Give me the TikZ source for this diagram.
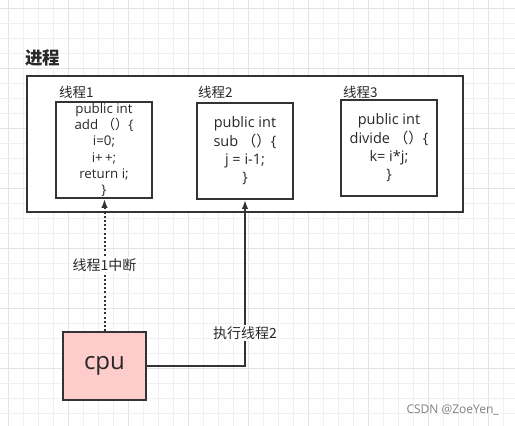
\documentclass[tikz,border=0pt]{standalone}
\usepackage{fontspec}
\setmainfont{Open Sans}
\newfontfamily\cjk{Noto Sans CJK SC}
\usepackage{xcolor}
\usetikzlibrary{arrows.meta,positioning}
\definecolor{gridminor}{RGB}{240,240,240}
\definecolor{gridmajor}{RGB}{228,228,228}
\definecolor{linegray}{RGB}{51,51,51}
\definecolor{textgray}{RGB}{40,40,40}
\definecolor{cpupink}{RGB}{255,204,204}
\tikzset{
    gridline/.style={draw=gridminor, line width=0.8pt},
    gridbold/.style={draw=gridmajor, line width=0.8pt},
    procbox/.style={
        rectangle,
        draw=linegray,
        fill=white,
        line width=1.8pt,
        minimum width=436pt,
        minimum height=136pt
    },
    threadbox/.style={
        rectangle,
        draw=linegray,
        fill=white,
        line width=1.8pt,
        minimum width=96pt,
        minimum height=96pt,
        align=center,
        inner sep=0pt,
        text=textgray
    },
    smallcode/.style={font=\fontsize{13.3}{16.3}\selectfont},
    bigcode/.style={font=\fontsize{14.5}{18.3}\selectfont},
    threadlabel/.style={anchor=west, inner sep=0pt, text=textgray,
        font=\cjk\fontsize{13.5}{15}\selectfont},
    cpubox/.style={
        rectangle,
        draw=linegray,
        fill=cpupink,
        line width=1.8pt,
        minimum width=83pt,
        minimum height=68pt,
        text=textgray,
        font=\fontsize{24}{28}\selectfont
    },
    edgelabel/.style={fill=white, inner sep=1.5pt, text=textgray,
        font=\cjk\fontsize{14}{16}\selectfont},
    line/.style={-{Latex[length=9pt,width=6.5pt]}, line width=1.8pt, draw=linegray},
    dottedline/.style={line, line width=2pt, dash pattern=on 2pt off 2.2pt},
}

\begin{document}
\begin{tikzpicture}[x=1pt, y=-1pt]
    \useasboundingbox (0,0) rectangle (515,426);

    % background grid
    \foreach \g in {23,38,53,83,98,113,143,158,173,203,218,233,263,278,293,323,338,353,383,398,413,443,458,473,503}
        \draw[gridline] (\g,0) -- (\g,426);
    \foreach \g in {8,68,128,188,248,308,368,428,488}
        \draw[gridbold] (\g,0) -- (\g,426);
    \foreach \g in {23,38,53,83,98,113,143,158,173,203,218,233,263,278,293,323,338,353,383,398,413}
        \draw[gridline] (0,\g) -- (515,\g);
    \foreach \g in {8,68,128,188,248,308,368}
        \draw[gridbold] (0,\g) -- (515,\g);

    \node[anchor=west, inner sep=0pt, text=textgray, font=\cjk\fontsize{17.5}{20}\selectfont\bfseries] (title) at (25,58) {进程};
    \node[procbox] (process) at (245,144) {};

    \node[threadbox, smallcode] (thread1) at (104,150) {public int\\add {\cjk（）}\{\\i=0;\\i+\,+;\\return i;\\\}};
    \node[threadbox, bigcode] (thread2) at (245,151) {public int\\sub {\cjk（）}\{\\j = i-1;\\\}};
    \node[threadbox, bigcode] (thread3) at (389,148) {public int\\divide {\cjk（）}\{\\k= i*j;\\\}};

    \node[threadlabel] (label1) at (59,92) {线程1};
    \node[threadlabel] (label2) at (198,92) {线程2};
    \node[threadlabel] (label3) at (343,92) {线程3};

    \node[cpubox] (cpu) at (104.5,366) {cpu};

    \draw[dottedline] (cpu.north) -- (cpu.north |- thread1.south)
        node[midway, edgelabel] {线程1中断};
    \draw[line] (cpu.east) -| (thread2.south)
        node[pos=0.6, edgelabel] {执行线程2};

    \node[anchor=east, inner sep=0pt, text=gray, font=\fontsize{12}{14}\selectfont] (mark) at (499,410) {CSDN @ZoeYen\_};
\end{tikzpicture}
\end{document}
